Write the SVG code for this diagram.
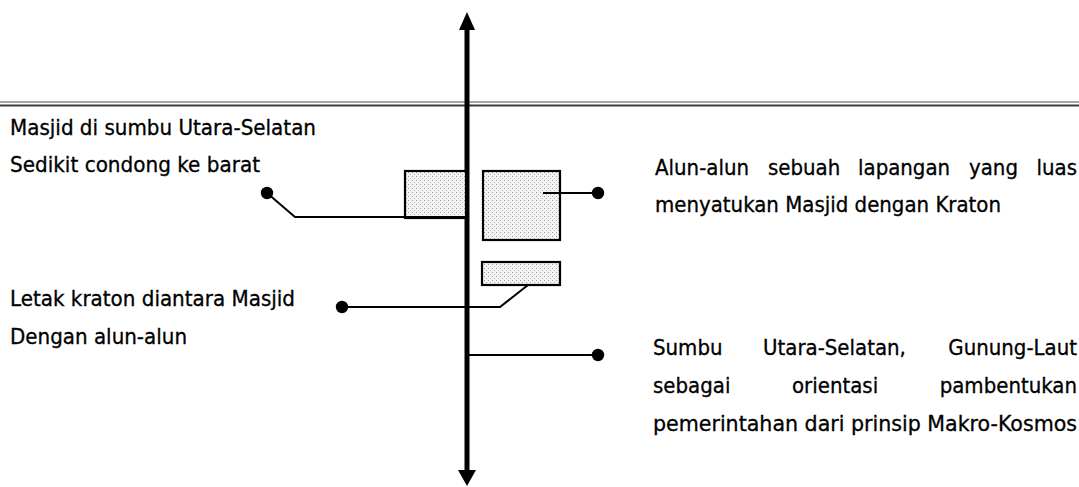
<svg xmlns="http://www.w3.org/2000/svg" width="1079" height="487" viewBox="0 0 1079 487">
<defs>
<pattern id="dots" width="4" height="4" patternUnits="userSpaceOnUse">
<rect width="4" height="4" fill="#f4f4f4"/>
<rect x="0" y="0" width="1" height="1" fill="#9a9a9a"/>
<rect x="2" y="2" width="1" height="1" fill="#b0b0b0"/>
</pattern>
<marker id="dot" markerWidth="14" markerHeight="14" refX="7" refY="7" markerUnits="userSpaceOnUse">
<circle cx="7" cy="7" r="6.2" fill="#000"/>
</marker>
</defs>
<style>
text{font-family:"DejaVu Sans Condensed","DejaVu Sans","Liberation Sans",sans-serif;font-size:22px;fill:#000;stroke:#000;stroke-width:0.3}
.end{text-anchor:end}
.box{fill:url(#dots);stroke:#000;stroke-width:2.2}
.conn{fill:none;stroke:#000;stroke-width:2}
</style>
<rect width="1079" height="487" fill="#fff"/>
<g id="frame-line">
<line x1="0" y1="102" x2="1079" y2="102" stroke="#8a8a8a" stroke-width="1.5"/>
<line x1="0" y1="105.5" x2="1079" y2="105.5" stroke="#3c3c3c" stroke-width="2"/>
</g>
<g id="axis">
<line x1="467" y1="28" x2="467" y2="472" stroke="#000" stroke-width="5"/>
<polygon points="467,12 459,30 475,30" fill="#000"/>
<polygon points="467,486 458,470 476,470" fill="#000"/>
</g>
<g id="masjid-box"><rect class="box" x="405" y="171" width="61" height="47"/></g>
<g id="alun-box"><rect class="box" x="483" y="171" width="77" height="69"/></g>
<g id="kraton-box"><rect class="box" x="482" y="262" width="78" height="23"/></g>
<g id="connectors">
<polyline class="conn" points="466,217 295,217 267,193" marker-end="url(#dot)"/>
<polyline class="conn" points="543,193 598,193" marker-end="url(#dot)"/>
<polyline class="conn" points="528,285 500,307 342,307" marker-end="url(#dot)"/>
<polyline class="conn" points="469,355 598,355" marker-end="url(#dot)"/>
</g>
<g id="label-masjid">
<text x="10" y="135" textLength="306" lengthAdjust="spacingAndGlyphs">Masjid di sumbu Utara-Selatan</text>
<text x="10" y="172" textLength="250" lengthAdjust="spacingAndGlyphs">Sedikit condong ke barat</text>
</g>
<g id="label-kraton">
<text x="10" y="306" textLength="285" lengthAdjust="spacingAndGlyphs">Letak kraton diantara Masjid</text>
<text x="10" y="344" textLength="177" lengthAdjust="spacingAndGlyphs">Dengan alun-alun</text>
</g>
<g id="label-alun">
<text y="175"><tspan x="655">Alun-alun</tspan><tspan x="768">sebuah</tspan><tspan x="858">lapangan</tspan><tspan x="969">yang</tspan></text>
<text class="end" x="1077" y="175">luas</text>
<text x="655" y="212">menyatukan Masjid dengan Kraton</text>
</g>
<g id="label-sumbu">
<text y="355"><tspan x="653">Sumbu</tspan><tspan x="763">Utara-Selatan,</tspan></text>
<text class="end" x="1077" y="355">Gunung-Laut</text>
<text y="393"><tspan x="653">sebagai</tspan><tspan x="792">orientasi</tspan></text>
<text class="end" x="1077" y="393">pambentukan</text>
<text x="653" y="431" textLength="424" lengthAdjust="spacingAndGlyphs">pemerintahan dari prinsip Makro-Kosmos</text>
</g>
</svg>
